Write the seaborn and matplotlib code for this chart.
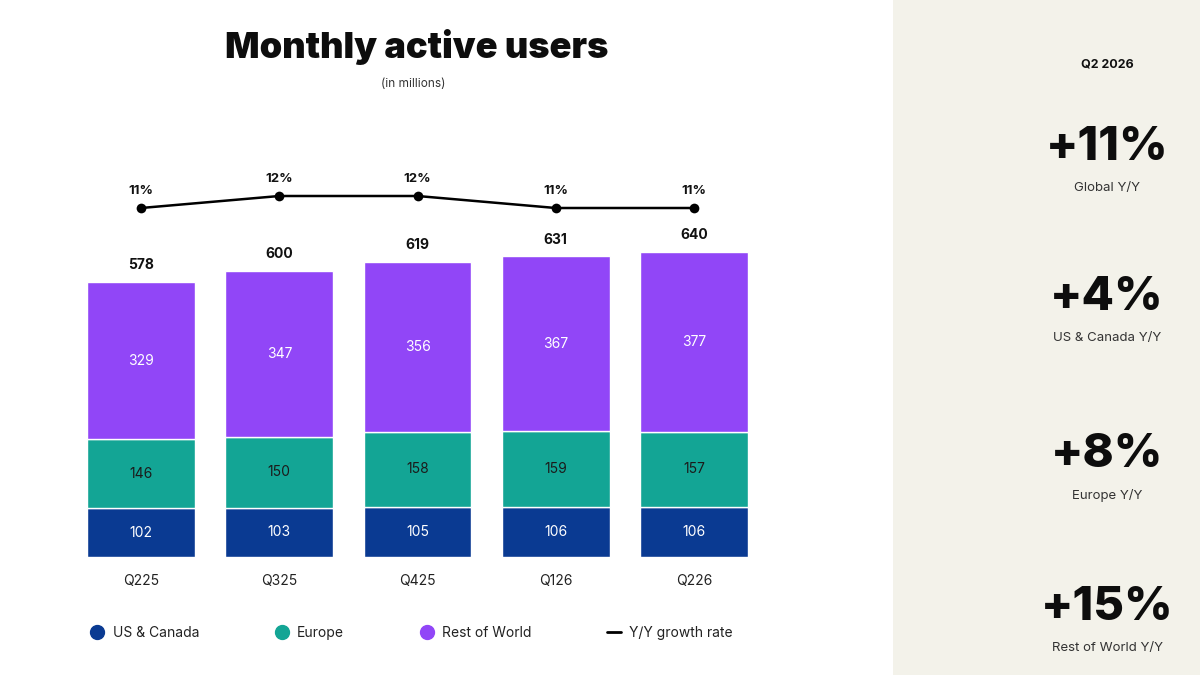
import numpy as np
import matplotlib
matplotlib.use('Agg')
import matplotlib.pyplot as plt
import seaborn as sns
import pandas as pd
from matplotlib.lines import Line2D

# Data (in millions)
quarters = ['Q225', 'Q325', 'Q425', 'Q126', 'Q226']
us_canada = [102, 103, 105, 106, 106]
europe = [146, 150, 158, 159, 157]
rest_of_world = [329, 347, 356, 367, 377]
totals = [578, 600, 619, 631, 640]
yoy_growth = [11, 12, 12, 11, 11]

kpi_values = ['+11%', '+4%', '+8%', '+15%']
kpi_labels = ['Global Y/Y', 'US & Canada Y/Y', 'Europe Y/Y', 'Rest of World Y/Y']

BLUE = '#0a3a92'
TEAL = '#13a595'
PURPLE = '#9146f7'
PANEL = '#f3f2ea'

sns.set_style('white')
plt.rcParams['font.family'] = ['Inter', 'DejaVu Sans']

df = pd.DataFrame({'quarter': quarters, 'us': us_canada, 'eu': europe,
                   'row': rest_of_world, 'yoy': yoy_growth})
df['eu_bottom'] = df['us']
df['row_bottom'] = df['us'] + df['eu']

fig = plt.figure(figsize=(12, 6.75), dpi=100)
W, H = 1200, 675

# right side panel
panel = fig.add_axes([893 / W, 0, 307 / W, 1])
panel.set_facecolor(PANEL)
panel.set_xticks([])
panel.set_yticks([])
for s in panel.spines.values():
    s.set_visible(False)

# main bar axes
ax = fig.add_axes([72 / W, (H - 557) / H, (763 - 72) / W, 407 / H])
px_per_unit = 0.476
ax.set_ylim(0, 407 / px_per_unit)

bar_kw = dict(width=0.78, edgecolor='white', linewidth=1, ax=ax)
sns.barplot(data=df, x='quarter', y='us', color=BLUE, saturation=1, **bar_kw)
sns.barplot(data=df, x='quarter', y='eu', bottom=df['eu_bottom'], color=TEAL, saturation=1, **bar_kw)
sns.barplot(data=df, x='quarter', y='row', bottom=df['row_bottom'], color=PURPLE, saturation=1, **bar_kw)
ax.set_xlim(-0.5, len(quarters) - 0.5)

for i in range(len(quarters)):
    ax.text(i, us_canada[i] / 2, str(us_canada[i]), ha='center', va='center',
            color='white', fontsize=10)
    ax.text(i, us_canada[i] + europe[i] / 2, str(europe[i]), ha='center', va='center',
            color='#1b1b1b', fontsize=10)
    ax.text(i, us_canada[i] + europe[i] + rest_of_world[i] / 2, str(rest_of_world[i]),
            ha='center', va='center', color='white', fontsize=10)
    ax.text(i, totals[i] + 10 / px_per_unit, str(totals[i]), ha='center', va='bottom',
            color='#111111', fontsize=10, fontweight='bold')

ax.set_xlabel('')
ax.set_ylabel('')
ax.set_yticks([])
ax.tick_params(axis='x', length=0, pad=12, labelsize=10, labelcolor='#222222')
for s in ax.spines.values():
    s.set_visible(False)

# growth line on its own scale
ax2 = ax.twinx()
ax2.set_ylim(11 - (557 - 208) / 12, 12 + (196 - 150) / 12)
sns.lineplot(x=np.arange(len(quarters)), y=yoy_growth, ax=ax2, color='black',
             linewidth=1.8, marker='o', markersize=7, markeredgewidth=0)
for i, g in enumerate(yoy_growth):
    ax2.text(i, g + 0.9, f'{g}%', ha='center', va='bottom', fontsize=9.5,
             fontweight='bold', color='#111111')
ax2.set_yticks([])
for s in ax2.spines.values():
    s.set_visible(False)
ax2.set_xlim(-0.5, len(quarters) - 0.5)

# titles
fig.text(417 / W, 1 - 47 / H, 'Monthly active users', ha='center', va='center',
         fontsize=26, fontweight='black', color='#0d0d0d')
fig.text(413 / W, 1 - 84 / H, '(in millions)', ha='center', va='center',
         fontsize=8.5, color='#333333')

# legend
handles = [
    Line2D([], [], marker='o', linestyle='none', markersize=10, color=BLUE),
    Line2D([], [], marker='o', linestyle='none', markersize=10, color=TEAL),
    Line2D([], [], marker='o', linestyle='none', markersize=10, color=PURPLE),
    Line2D([], [], color='black', linewidth=2),
]
fig.legend(handles, ['US & Canada', 'Europe', 'Rest of World', 'Y/Y growth rate'],
           loc='center left', bbox_to_anchor=(78 / W, 1 - 633 / H), ncol=4,
           frameon=False, fontsize=10, columnspacing=5.45, handlelength=1.0,
           handletextpad=0.6, labelcolor='#222222')

# KPI panel
fig.text(1107 / W, 1 - 64 / H, 'Q2 2026', ha='center', va='center', fontsize=9,
         fontweight='bold', color='#111111')
kpi_y = [148, 298, 455, 608]
for v, lab, y in zip(kpi_values, kpi_labels, kpi_y):
    fig.text(1107 / W, 1 - y / H, v, ha='center', va='center', fontsize=34,
             fontweight='heavy', color='#0d0d0d')
    fig.text(1107 / W, 1 - (y + 40) / H, lab, ha='center', va='center', fontsize=9.5,
             color='#333333')

fig.savefig('out.png', dpi=100)
